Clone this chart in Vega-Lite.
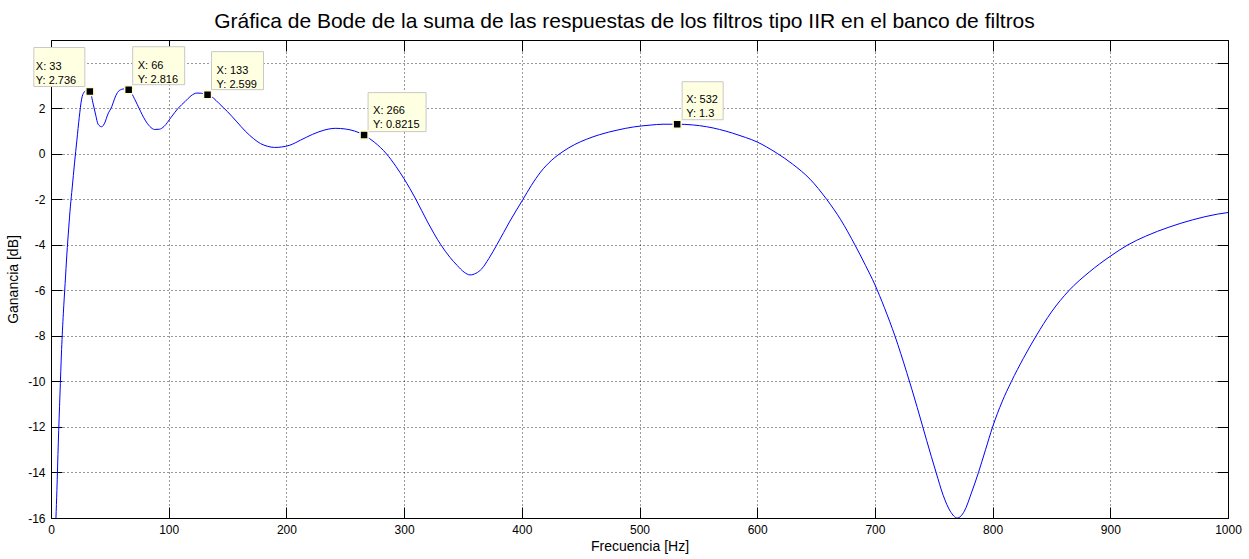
{
  "$schema": "https://vega.github.io/schema/vega-lite/v6.json",
  "width": 1177,
  "height": 478,
  "autosize": {"type": "none"},
  "padding": {"left": 51, "top": 40, "right": 21, "bottom": 41},
  "background": "white",
  "title": {"text": "Gráfica de Bode de la suma de las respuestas de los filtros tipo IIR en el banco de filtros", "font": "Liberation Sans", "fontSize": 21, "fontWeight": "normal", "color": "#000", "anchor": "middle", "offset": 8, "dx": -15},
  "config": {"view": {"stroke": "#000", "strokeWidth": 1}, "font": "Liberation Sans"},
  "datasets": {
    "curve": [
      {"f": 4.2, "g": -16.0}, {"f": 5, "g": -14.8}, {"f": 6.2, "g": -12.7}, {"f": 7.6, "g": -10.6}, {"f": 9, "g": -8.6},
      {"f": 10.5, "g": -7.0}, {"f": 12, "g": -5.7}, {"f": 13.5, "g": -4.4}, {"f": 15, "g": -3.3}, {"f": 16.5, "g": -2.3},
      {"f": 18, "g": -1.5}, {"f": 20, "g": -0.4}, {"f": 22, "g": 0.6}, {"f": 24, "g": 1.6}, {"f": 26, "g": 2.4},
      {"f": 28, "g": 2.7}, {"f": 30, "g": 2.78}, {"f": 33, "g": 2.736}, {"f": 36, "g": 2.15}, {"f": 38, "g": 1.7},
      {"f": 40, "g": 1.3}, {"f": 43, "g": 1.19}, {"f": 46, "g": 1.4}, {"f": 48, "g": 1.7}, {"f": 51.6, "g": 2.07},
      {"f": 55, "g": 2.55}, {"f": 58, "g": 2.78}, {"f": 62, "g": 2.85}, {"f": 66, "g": 2.816}, {"f": 71.4, "g": 2.37},
      {"f": 75, "g": 1.98}, {"f": 80, "g": 1.48}, {"f": 84, "g": 1.2}, {"f": 88, "g": 1.07}, {"f": 92, "g": 1.08},
      {"f": 96, "g": 1.2}, {"f": 102, "g": 1.6}, {"f": 108, "g": 2.0}, {"f": 114, "g": 2.3}, {"f": 119, "g": 2.55},
      {"f": 124, "g": 2.67}, {"f": 128, "g": 2.66}, {"f": 133, "g": 2.599}, {"f": 138, "g": 2.45}, {"f": 143, "g": 2.2},
      {"f": 150, "g": 1.85}, {"f": 158, "g": 1.4}, {"f": 165, "g": 1.0}, {"f": 172, "g": 0.67}, {"f": 178, "g": 0.45},
      {"f": 184, "g": 0.33}, {"f": 190, "g": 0.28}, {"f": 196, "g": 0.3}, {"f": 203, "g": 0.38}, {"f": 212, "g": 0.6},
      {"f": 222, "g": 0.85}, {"f": 232, "g": 1.04}, {"f": 242, "g": 1.12}, {"f": 250, "g": 1.09}, {"f": 258, "g": 1.0},
      {"f": 266, "g": 0.8215}, {"f": 275, "g": 0.5}, {"f": 285, "g": 0.0}, {"f": 293, "g": -0.55}, {"f": 300, "g": -1.1},
      {"f": 310, "g": -2.0}, {"f": 320, "g": -3.0}, {"f": 331, "g": -3.98}, {"f": 339, "g": -4.55}, {"f": 345, "g": -4.9},
      {"f": 351, "g": -5.2}, {"f": 356, "g": -5.32}, {"f": 361, "g": -5.25}, {"f": 366, "g": -5.05}, {"f": 372, "g": -4.6},
      {"f": 379, "g": -3.98}, {"f": 390, "g": -2.95}, {"f": 401, "g": -2.0}, {"f": 408, "g": -1.4}, {"f": 416, "g": -0.8},
      {"f": 425, "g": -0.3}, {"f": 435, "g": 0.1}, {"f": 445, "g": 0.41}, {"f": 455, "g": 0.64}, {"f": 466, "g": 0.84},
      {"f": 481, "g": 1.04}, {"f": 495, "g": 1.18}, {"f": 509, "g": 1.26}, {"f": 520, "g": 1.3}, {"f": 532, "g": 1.3},
      {"f": 545, "g": 1.27}, {"f": 557, "g": 1.19}, {"f": 568, "g": 1.07}, {"f": 579, "g": 0.91}, {"f": 590, "g": 0.72},
      {"f": 600, "g": 0.52}, {"f": 608, "g": 0.3}, {"f": 617, "g": 0.02}, {"f": 630, "g": -0.45}, {"f": 645, "g": -1.12},
      {"f": 659, "g": -2.0}, {"f": 671, "g": -2.9}, {"f": 683, "g": -4.0}, {"f": 692, "g": -4.9}, {"f": 700, "g": -5.75},
      {"f": 708, "g": -6.75}, {"f": 717, "g": -8.0}, {"f": 727, "g": -9.6}, {"f": 736, "g": -11.15}, {"f": 744, "g": -12.6},
      {"f": 752, "g": -14.0}, {"f": 758, "g": -15.0}, {"f": 764, "g": -15.7}, {"f": 770, "g": -16.0}, {"f": 776, "g": -15.7},
      {"f": 782, "g": -14.9}, {"f": 788, "g": -14.0}, {"f": 794, "g": -13.0}, {"f": 800, "g": -12.0}, {"f": 808, "g": -10.9},
      {"f": 816, "g": -10.0}, {"f": 826, "g": -9.0}, {"f": 837, "g": -8.0}, {"f": 850, "g": -6.95}, {"f": 865, "g": -6.0},
      {"f": 882, "g": -5.2}, {"f": 900, "g": -4.5}, {"f": 915, "g": -4.0}, {"f": 930, "g": -3.62}, {"f": 950, "g": -3.22},
      {"f": 970, "g": -2.9}, {"f": 991, "g": -2.65}, {"f": 1000, "g": -2.58}
    ],
    "tips": [
      {"f": 33, "g": 2.736}, {"f": 66, "g": 2.816}, {"f": 133, "g": 2.599}, {"f": 266, "g": 0.8215}, {"f": 532, "g": 1.3}
    ]
  },
  "resolve": {"axis": {"x": "independent", "y": "independent"}},
  "layer": [
    {
      "data": {"name": "curve"},
      "mark": {"type": "line", "color": "#0000ff", "strokeWidth": 1, "interpolate": "monotone", "clip": true},
      "encoding": {
        "x": {"field": "f", "type": "quantitative", "scale": {"domain": [0, 1000], "nice": false, "zero": false},
          "axis": {"orient": "bottom", "values": [0, 100, 200, 300, 400, 500, 600, 700, 800, 900, 1000], "grid": true, "gridColor": "#000", "gridDash": [1, 3], "gridOpacity": 0.8, "gridWidth": 1, "domain": false, "ticks": true, "tickSize": 11, "tickColor": "#000", "offset": -11, "labelFont": "Liberation Sans", "labelFontSize": 12, "labelColor": "#000", "labelPadding": 6, "labelFlush": false, "labelOverlap": false, "labelExpr": "'' + datum.value", "title": "Frecuencia [Hz]", "titleFont": "Liberation Sans", "titleFontSize": 14, "titleFontWeight": "normal", "titleColor": "#000", "titlePadding": 4}},
        "y": {"field": "g", "type": "quantitative", "scale": {"domain": [-16, 5], "nice": false, "zero": false},
          "axis": {"orient": "left", "values": [-16, -14, -12, -10, -8, -6, -4, -2, 0, 2, 4], "grid": true, "gridColor": "#000", "gridDash": [1, 3], "gridOpacity": 0.8, "gridWidth": 1, "domain": false, "ticks": true, "tickSize": 11, "tickColor": "#000", "offset": -11, "labelFont": "Liberation Sans", "labelFontSize": 12, "labelColor": "#000", "labelPadding": 6, "labelFlush": false, "labelOverlap": false, "labelExpr": "datum.value == 4 ? '' : '' + datum.value", "title": "Ganancia [dB]", "titleFont": "Liberation Sans", "titleFontSize": 14, "titleFontWeight": "normal", "titleColor": "#000", "titlePadding": 7}}
      }
    },
    {
      "data": {"name": "tips"},
      "transform": [{"filter": "datum.f == 33"}],
      "mark": {"type": "rect", "width": 51, "height": 39, "xOffset": -30.5, "yOffset": -24.5, "fill": "#ffffe1", "stroke": "#c8c8c8", "strokeWidth": 1},
      "encoding": {"x": {"field": "f", "type": "quantitative", "axis": null}, "y": {"field": "g", "type": "quantitative", "axis": null}}
    },
    {
      "data": {"name": "tips"},
      "transform": [{"filter": "datum.f == 66 || datum.f == 133"}],
      "mark": {"type": "rect", "width": 52, "height": 38, "xOffset": 30, "yOffset": -24, "fill": "#ffffe1", "stroke": "#c8c8c8", "strokeWidth": 1},
      "encoding": {"x": {"field": "f", "type": "quantitative", "axis": null}, "y": {"field": "g", "type": "quantitative", "axis": null}}
    },
    {
      "data": {"name": "tips"},
      "transform": [{"filter": "datum.f == 266"}],
      "mark": {"type": "rect", "width": 58, "height": 39, "xOffset": 33, "yOffset": -23, "fill": "#ffffe1", "stroke": "#c8c8c8", "strokeWidth": 1},
      "encoding": {"x": {"field": "f", "type": "quantitative", "axis": null}, "y": {"field": "g", "type": "quantitative", "axis": null}}
    },
    {
      "data": {"name": "tips"},
      "transform": [{"filter": "datum.f == 532"}],
      "mark": {"type": "rect", "width": 41, "height": 38, "xOffset": 25.5, "yOffset": -23.5, "fill": "#ffffe1", "stroke": "#c8c8c8", "strokeWidth": 1},
      "encoding": {"x": {"field": "f", "type": "quantitative", "axis": null}, "y": {"field": "g", "type": "quantitative", "axis": null}}
    },
    {
      "data": {"name": "tips"},
      "transform": [{"filter": "datum.f != 33"}, {"calculate": "['X: ' + datum.f, 'Y: ' + datum.g]", "as": "lab"}],
      "mark": {"type": "text", "align": "left", "baseline": "middle", "dx": 9, "dy": -24, "fontSize": 11, "lineHeight": 14, "font": "Liberation Sans", "color": "#000"},
      "encoding": {"x": {"field": "f", "type": "quantitative", "axis": null}, "y": {"field": "g", "type": "quantitative", "axis": null}, "text": {"field": "lab"}}
    },
    {
      "data": {"name": "tips"},
      "transform": [{"filter": "datum.f == 33"}, {"calculate": "['X: ' + datum.f, 'Y: ' + datum.g]", "as": "lab"}],
      "mark": {"type": "text", "align": "left", "baseline": "middle", "dx": -54, "dy": -25, "fontSize": 11, "lineHeight": 14, "font": "Liberation Sans", "color": "#000"},
      "encoding": {"x": {"field": "f", "type": "quantitative", "axis": null}, "y": {"field": "g", "type": "quantitative", "axis": null}, "text": {"field": "lab"}}
    },
    {
      "data": {"name": "tips"},
      "mark": {"type": "point", "shape": "square", "size": 64, "filled": true, "fill": "#000", "stroke": "#fffbd0", "strokeWidth": 1.5, "opacity": 1},
      "encoding": {
        "x": {"field": "f", "type": "quantitative", "axis": {"orient": "top", "values": [0, 100, 200, 300, 400, 500, 600, 700, 800, 900, 1000], "grid": false, "domain": false, "labels": false, "ticks": true, "tickSize": 11, "tickColor": "#000", "offset": -11, "title": null}},
        "y": {"field": "g", "type": "quantitative", "axis": {"orient": "right", "values": [-16, -14, -12, -10, -8, -6, -4, -2, 0, 2, 4], "grid": false, "domain": false, "labels": false, "ticks": true, "tickSize": 11, "tickColor": "#000", "offset": -11, "title": null}}
      }
    }
  ]
}
